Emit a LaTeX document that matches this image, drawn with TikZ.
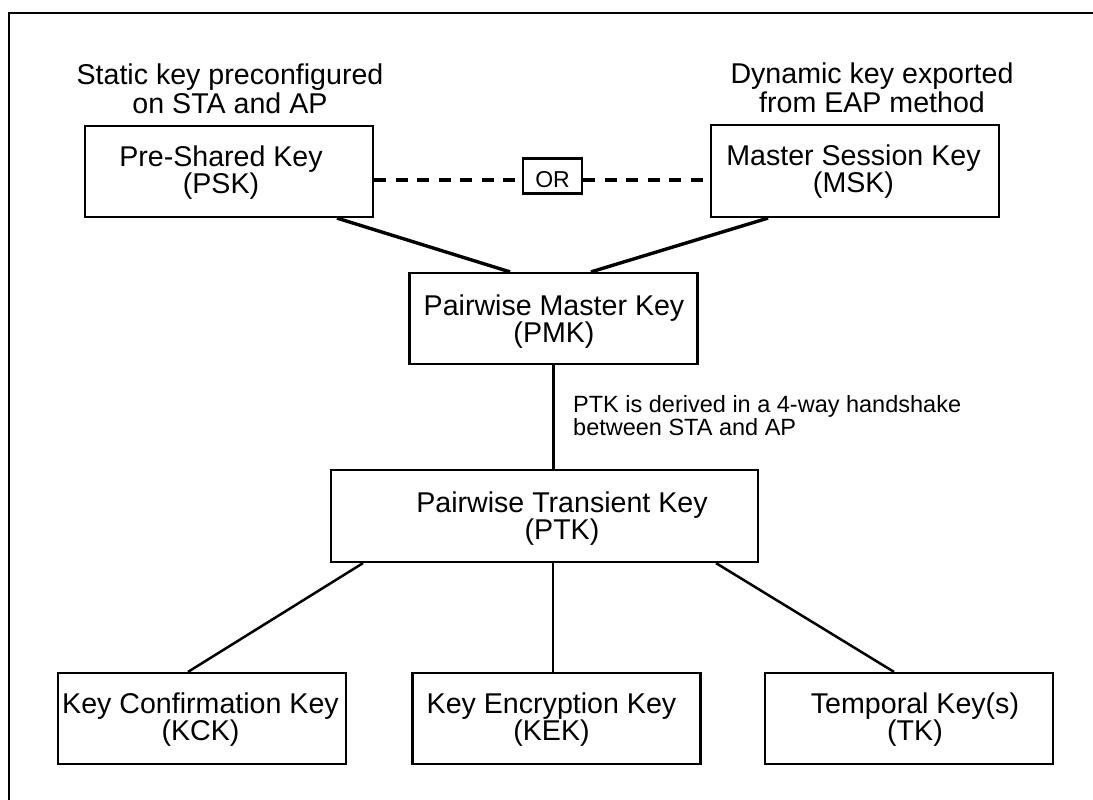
\documentclass[tikz,border=0pt]{standalone}
\usepackage{fontspec}
\setmainfont{Liberation Sans}
\usetikzlibrary{calc}

\begin{document}
\begin{tikzpicture}[x=1pt,y=-1pt,
  keybox/.style={draw, line width=2.2pt, minimum width=288pt, minimum height=91pt, inner sep=0pt},
  boxtext/.style={align=center, inner sep=0pt, font=\fontsize{28.6}{27}\selectfont},
  headtext/.style={align=center, inner sep=0pt, font=\fontsize{28.6}{29.5}\selectfont},
  notetext/.style={align=left, inner sep=0pt, font=\fontsize{23.5}{23}\selectfont},
  link/.style={line width=3.4pt},
  thinlink/.style={line width=2.5pt},
  orline/.style={line width=3.2pt, dash pattern=on 12pt off 9.5pt},
]
\useasboundingbox (0,0) rectangle (1093,800);

% outer frame
\draw[line width=2.6pt] (9,800) -- (9,13) -- (1093,13);

% source keys
\node[headtext] (static-note) at (230,89) {Static key preconfigured\\on STA and AP};
\node[headtext] (dynamic-note) at (872,88) {Dynamic key exported\\from EAP method};

\node[keybox] (psk) at (229,171.5) {};
\node[boxtext] (psk-text) at ($(psk.center)+(-8,1)$) {Pre-Shared Key\\(PSK)};
\node[keybox, minimum height=92pt] (msk) at (855,171) {};
\node[boxtext] (msk-text) at ($(msk.center)+(-1.5,1)$) {Master Session Key\\(MSK)};

% alternative marker
\node[draw, line width=2.4pt, minimum width=59pt, minimum height=35pt, inner sep=0pt] (or) at (552.5,175.8) {};
\node[inner sep=0pt, font=\fontsize{23}{23}\selectfont] (or-text) at (552.5,180) {OR};
\draw[orline] (psk.east |- or-text.center) -- (or.west |- or-text.center);
\draw[orline] (or.east |- or-text.center) -- (msk.west |- or-text.center);

% pairwise master key
\node[keybox] (pmk) at (553.5,318.5) {};
\node[boxtext] (pmk-text) at ($(pmk.center)+(0.5,3)$) {Pairwise Master Key\\(PMK)};
\draw[link] ([xshift=108pt]psk.south) -- ([xshift=-43.5pt]pmk.north);
\draw[link] ([xshift=-87pt]msk.south) -- ([xshift=37.5pt]pmk.north);

% pairwise transient key
\node[keybox, minimum width=427pt, minimum height=92pt] (ptk) at (544.5,516) {};
\node[boxtext] (ptk-text) at ($(ptk.center)+(17.5,2.5)$) {Pairwise Transient Key\\(PTK)};
\draw[line width=3.2pt] (pmk.south) -- (pmk.south |- ptk.north);
\node[notetext, anchor=north west] (ptk-note) at (573,395) {PTK is derived in a 4-way handshake\\between STA and AP};

% derived keys
\node[keybox] (kck) at (202,718.5) {};
\node[boxtext] (kck-text) at ($(kck.center)+(-1.5,1)$) {Key Confirmation Key\\(KCK)};
\node[keybox] (kek) at (556.5,718.5) {};
\node[boxtext] (kek-text) at ($(kek.center)+(-5,1)$) {Key Encryption Key\\(KEK)};
\node[keybox] (tk) at (909,718.5) {};
\node[boxtext] (tk-text) at ($(tk.center)+(6,1)$) {Temporal Key(s)\\(TK)};

\draw[thinlink] ([xshift=-181.5pt]ptk.south) -- ([xshift=-14pt]kck.north);
\draw[thinlink] ([xshift=-3.5pt]kek.north |- ptk.south) -- ([xshift=-3.5pt]kek.north);
\draw[thinlink] ([xshift=171.5pt]ptk.south) -- ([xshift=-15pt]tk.north);
\end{tikzpicture}
\end{document}
